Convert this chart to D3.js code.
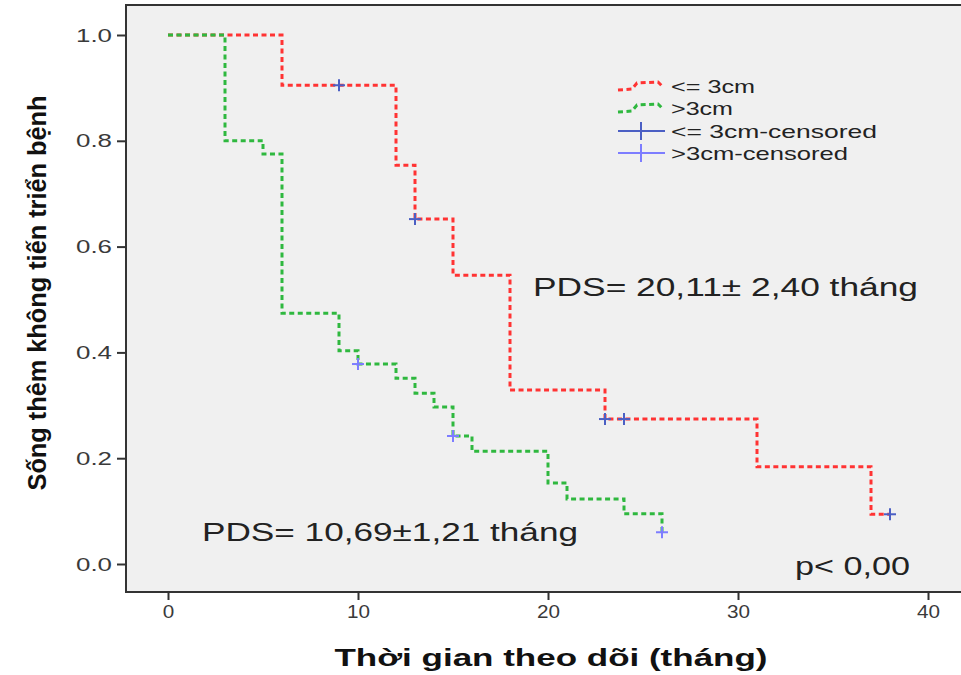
<!DOCTYPE html>
<html>
<head>
<meta charset="utf-8">
<script src="https://cdn.jsdelivr.net/npm/d3@7"></script>
<style>
  body { margin: 0; background: #fff; }
  svg text { font-family: "Liberation Sans", Arial, sans-serif; }
</style>
</head>
<body>
<div id="chart"></div>
<script>
// Kaplan-Meier data
const smallTimes = [0, 6, 12, 13, 15, 18, 23, 31, 37, 38];
const smallSurv = [1.0, 0.905, 0.754, 0.652, 0.546, 0.329, 0.274, 0.184, 0.094, 0.094];
const smallCensTimes = [9, 13, 23, 24, 38];
const smallCensSurv = [0.905, 0.652, 0.274, 0.274, 0.094];

const largeTimes = [0, 3, 5, 6, 9, 10, 12, 13, 14, 15, 16, 20, 21, 24, 26];
const largeSurv = [1.0, 0.80, 0.775, 0.474, 0.403, 0.378, 0.351, 0.323, 0.297, 0.242, 0.213, 0.153, 0.123, 0.095, 0.06];
const largeCensTimes = [10, 15, 26];
const largeCensSurv = [0.378, 0.242, 0.06];

const xTicks = [0, 10, 20, 30, 40];
const yTicks = [0, 0.2, 0.4, 0.6, 0.8, 1.0];
const legendLabels = ['<= 3cm', '>3cm', '<= 3cm-censored', '>3cm-censored'];

const W = 961, H = 675;
const frame = { left: 126, top: 5, right: 975, bottom: 592 };

const svg = d3.select('#chart').append('svg')
    .attr('width', W)
    .attr('height', H);

// Scales
const x = d3.scaleLinear().domain([0, 40]).range([168, 928]);
const y = d3.scaleLinear().domain([0, 1]).range([564, 35]);

// Plot background
svg.append('rect')
    .attr('x', frame.left)
    .attr('y', frame.top)
    .attr('width', frame.right - frame.left)
    .attr('height', frame.bottom - frame.top)
    .attr('fill', '#f0f0f0')
    .attr('stroke', '#333')
    .attr('stroke-width', 2);

// Axes
const xAxis = svg.append('g')
    .attr('transform', `translate(0,${frame.bottom})`)
    .call(d3.axisBottom(x).tickValues(xTicks).tickSize(8).tickPadding(5));
const yAxis = svg.append('g')
    .attr('transform', `translate(${frame.left},0)`)
    .call(d3.axisLeft(y).tickValues(yTicks).tickSize(9).tickPadding(5).tickFormat(d3.format('.1f')));

[xAxis, yAxis].forEach(g => {
    g.select('.domain').remove();
    g.selectAll('.tick line').attr('stroke', '#333').attr('stroke-width', 2);
    g.selectAll('.tick text')
        .attr('fill', '#3a3a3a')
        .style('font-size', '19px')
        .style('font-family', '"Liberation Sans", Arial, sans-serif')
        .attr('lengthAdjust', 'spacingAndGlyphs');
});
xAxis.selectAll('.tick text').attr('textLength', d => String(d).length * 11.5);
yAxis.selectAll('.tick text').attr('textLength', 36);

// Step curves
const line = d3.line()
    .x(d => x(d[0]))
    .y(d => y(d[1]))
    .curve(d3.curveStepAfter);

svg.append('path')
    .datum(d3.zip(smallTimes, smallSurv))
    .attr('fill', 'none')
    .attr('stroke', '#ff3333')
    .attr('stroke-width', 3)
    .attr('stroke-dasharray', '5,3.5')
    .attr('d', line);

svg.append('path')
    .datum(d3.zip(largeTimes, largeSurv))
    .attr('fill', 'none')
    .attr('stroke', '#2fb83f')
    .attr('stroke-width', 3)
    .attr('stroke-dasharray', '5,3.5')
    .attr('d', line);

// Censored marks
function drawCensored(times, surv, color) {
    const g = svg.append('g');
    d3.zip(times, surv).forEach(d => {
        const cx = x(d[0]), cy = y(d[1]);
        g.append('line').attr('x1', cx - 6).attr('x2', cx + 6).attr('y1', cy).attr('y2', cy)
            .attr('stroke', color).attr('stroke-width', 2);
        g.append('line').attr('x1', cx).attr('x2', cx).attr('y1', cy - 6).attr('y2', cy + 6)
            .attr('stroke', color).attr('stroke-width', 2);
    });
}
drawCensored(smallCensTimes, smallCensSurv, '#4b5fc4');
drawCensored(largeCensTimes, largeCensSurv, '#7d7dff');

// Legend
const legend = svg.append('g').attr('transform', 'translate(618,0)');
const legendY = [86, 108, 131, 153];
const legendWidths = [84, 62, 206, 177];
const legendColors = ['#ff3333', '#2fb83f', '#4b5fc4', '#7d7dff'];
legendLabels.forEach((label, i) => {
    const ly = legendY[i];
    if (i < 2) {
        legend.append('path')
            .attr('d', `M0,${ly + 4}L14,${ly + 3}L19,${ly - 3}L40,${ly - 4}L45,${ly + 1}`)
            .attr('fill', 'none')
            .attr('stroke', legendColors[i])
            .attr('stroke-width', 3)
            .attr('stroke-dasharray', '5,3.5');
    } else {
        legend.append('line').attr('x1', 0).attr('x2', 47).attr('y1', ly).attr('y2', ly)
            .attr('stroke', legendColors[i]).attr('stroke-width', 2);
        legend.append('line').attr('x1', 23).attr('x2', 23).attr('y1', ly - 9).attr('y2', ly + 9)
            .attr('stroke', legendColors[i]).attr('stroke-width', 2);
    }
    legend.append('text')
        .attr('x', 53)
        .attr('y', ly)
        .attr('dy', '0.35em')
        .attr('fill', '#222')
        .style('font-size', '19px')
        .attr('textLength', legendWidths[i])
        .attr('lengthAdjust', 'spacingAndGlyphs')
        .text(label);
});

// Annotations
svg.append('text')
    .attr('x', 533).attr('y', 287).attr('dy', '0.35em')
    .attr('fill', '#222').style('font-size', '26px')
    .attr('textLength', 385).attr('lengthAdjust', 'spacingAndGlyphs')
    .text('PDS= 20,11± 2,40 tháng');

svg.append('text')
    .attr('x', 202).attr('y', 532).attr('dy', '0.35em')
    .attr('fill', '#222').style('font-size', '26px')
    .attr('textLength', 376).attr('lengthAdjust', 'spacingAndGlyphs')
    .text('PDS= 10,69±1,21 tháng');

svg.append('text')
    .attr('x', 795).attr('y', 566).attr('dy', '0.35em')
    .attr('fill', '#222').style('font-size', '25px')
    .attr('textLength', 115).attr('lengthAdjust', 'spacingAndGlyphs')
    .text('p< 0,00');

// Axis titles
svg.append('text')
    .attr('x', 551).attr('y', 658).attr('dy', '0.35em')
    .attr('text-anchor', 'middle')
    .attr('fill', '#111')
    .style('font-size', '24px').style('font-weight', 'bold')
    .attr('textLength', 433).attr('lengthAdjust', 'spacingAndGlyphs')
    .text('Thời gian theo dõi (tháng)');

svg.append('text')
    .attr('transform', 'translate(37,293) rotate(-90)')
    .attr('dy', '0.35em')
    .attr('text-anchor', 'middle')
    .attr('fill', '#111')
    .style('font-size', '26px').style('font-weight', 'bold')
    .attr('textLength', 395)
    .attr('lengthAdjust', 'spacingAndGlyphs')
    .text('Sống thêm không tiến triển bệnh');
</script>
</body>
</html>
